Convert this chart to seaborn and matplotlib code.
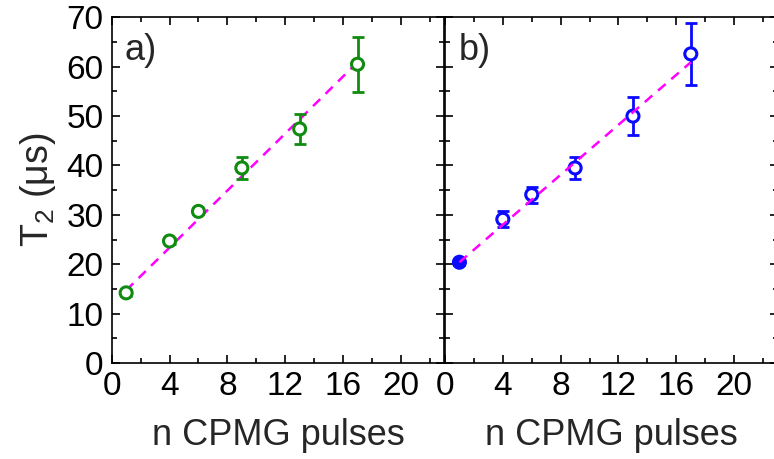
import matplotlib
matplotlib.use("Agg")
import matplotlib.pyplot as plt
import seaborn as sns
import numpy as np
import pandas as pd
from matplotlib.ticker import MultipleLocator

# ---- data ----
n_pulses = [1, 4, 6, 9, 13, 17]
t2_a = [14.2, 24.7, 30.7, 39.5, 47.4, 60.5]
err_a = [0.6, 0.6, 0.5, 2.3, 3.1, 5.6]
t2_b = [20.4, 29.1, 34.1, 39.5, 50.0, 62.6]
err_b = [0.6, 1.6, 1.6, 2.3, 3.9, 6.3]
fit_x = [1, 17]
fit_a = [14.7, 60.9]
fit_b = [20.4, 60.9]
panel_labels = ["a)", "b)"]
colors = ["#0f8c0f", "#0a0aff"]
xlabel = "n CPMG pulses"
ylabel = "T$_2$ (μs)"

sns.set_theme(style="white")
plt.rcParams["font.family"] = ["Liberation Sans", "DejaVu Sans"]
plt.rcParams["mathtext.fontset"] = "custom"
plt.rcParams["mathtext.rm"] = "Liberation Sans"
plt.rcParams["mathtext.it"] = "Liberation Sans:italic"

fig = plt.figure(figsize=(7.74, 4.59), dpi=100)
W = 0.4297
axes = [fig.add_axes([0.1443, 0.2092, W, 0.753]),
        fig.add_axes([0.5749, 0.2092, W, 0.753])]

datasets = [(t2_a, err_a, fit_a), (t2_b, err_b, fit_b)]
for i, (ax, (y, e, fy)) in enumerate(zip(axes, datasets)):
    c = colors[i]
    ax.errorbar(n_pulses, y, yerr=e, fmt="none", ecolor=c, elinewidth=2,
                capsize=4, capthick=2, zorder=3)
    df = pd.DataFrame({"x": n_pulses, "y": y})
    faces = ["white"] * len(n_pulses)
    if i == 1:
        faces[0] = c
    sns.scatterplot(data=df, x="x", y="y", ax=ax, s=75, facecolor=faces,
                    edgecolor=c, linewidth=2.2, zorder=4)
    fit_df = pd.DataFrame({"x": fit_x, "y": fy})
    sns.lineplot(data=fit_df, x="x", y="y", ax=ax, color="#ff00ff",
                 linestyle=(0, (4, 3)), linewidth=1.8, zorder=5 if i == 1 else 2)
    ax.set_xlim(0, 23)
    ax.set_ylim(0, 70)
    ax.xaxis.set_major_locator(MultipleLocator(4))
    ax.xaxis.set_minor_locator(MultipleLocator(2))
    ax.yaxis.set_major_locator(MultipleLocator(10))
    ax.yaxis.set_minor_locator(MultipleLocator(5))
    ax.tick_params(which="both", direction="in", top=True, right=True,
                   bottom=True, left=True, width=1.2, colors="black")
    ax.tick_params(which="major", length=6, labelsize=24, pad=6)
    ax.tick_params(which="minor", length=3.5)
    ax.set_xticks([0, 4, 8, 12, 16, 20])
    ax.set_xlabel(xlabel, fontsize=26, labelpad=11)
    for s in ax.spines.values():
        s.set_color("black")
        s.set_linewidth(1.2)
    ax.text(0.04, 0.955, panel_labels[i], transform=ax.transAxes,
            fontsize=26, va="top", ha="left")
    if i == 0:
        ax.set_ylabel(ylabel, fontsize=27, labelpad=6)
    else:
        ax.set_ylabel("")
        ax.tick_params(labelleft=False)

fig.savefig("out.png", dpi=100)
